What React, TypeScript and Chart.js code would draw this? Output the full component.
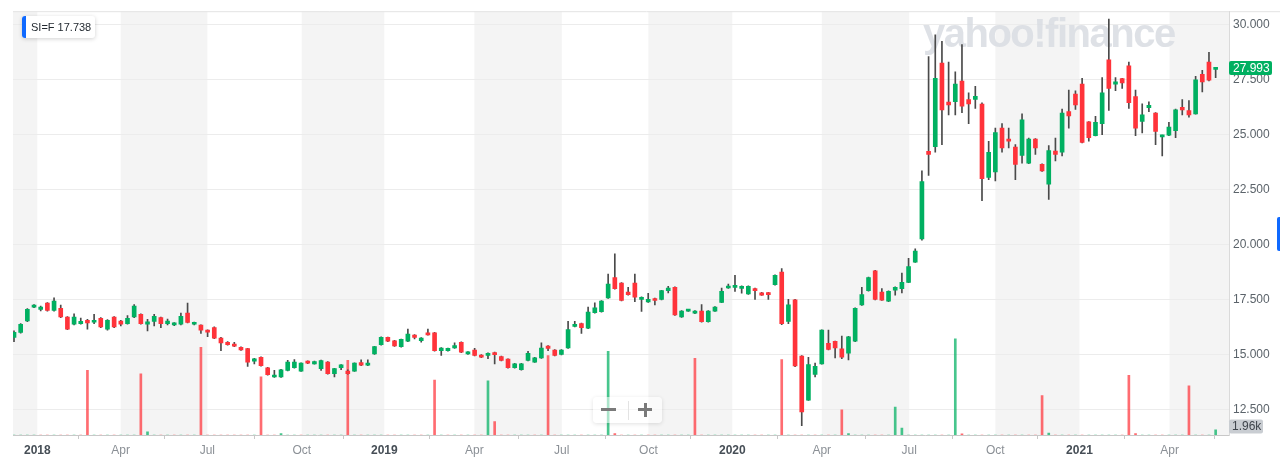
import React, { useEffect, useRef } from 'react';
import { Chart, registerables } from 'chart.js';

Chart.register(...registerables);

// Weekly OHLC for SI=F (silver futures), Dec 2017 – May 2021
const open = [
  15.77, 16.0, 16.52, 17.15, 17.05, 17.33, 17.0, 17.1, 16.7, 16.37,
  16.4, 16.55, 16.46, 16.64, 16.15, 16.7, 16.52, 16.4, 16.7, 16.82,
  16.37, 16.5, 16.67, 16.4, 16.34, 16.37, 16.88, 16.37, 16.33, 16.1,
  16.22, 15.74, 15.55, 15.47, 15.32, 15.26, 14.69, 14.87, 14.39, 13.97,
  13.97, 14.27, 14.39, 14.24, 14.69, 14.57, 14.35, 14.65, 14.12, 14.39,
  14.24, 14.24, 14.63, 14.51, 15.02, 15.44, 15.77, 15.62, 15.35, 15.6,
  15.88, 15.62, 15.98, 15.98, 15.17, 15.17, 15.29, 15.55, 15.02, 15.2,
  14.97, 14.95, 15.08, 14.9, 14.78, 14.39, 14.3, 14.72, 14.65, 14.84,
  15.38, 15.2, 15.0, 15.29, 16.27, 16.4, 16.19, 16.9, 16.94, 17.57,
  18.5, 18.25, 17.84, 18.25, 17.5, 17.39, 17.54, 17.5, 17.9, 18.05,
  16.7, 16.97, 16.87, 16.97, 16.49, 16.97, 17.37, 18.02, 18.05, 18.0,
  17.75, 18.0, 17.8, 17.8, 18.17, 18.75, 16.5, 17.48, 14.92, 12.92,
  14.09, 14.57, 15.5, 15.59, 15.25, 15.05, 15.6, 17.25, 17.9, 18.8,
  17.84, 17.42, 17.92, 17.99, 18.28, 19.2, 20.25, 24.24, 24.45, 28.26,
  26.48, 26.5, 27.44, 26.6, 26.6, 26.39, 23.05, 23.3, 25.3, 24.8,
  24.43, 24.06, 23.7, 24.8, 23.65, 22.75, 24.25, 24.2, 26.05, 26.85,
  27.3, 25.58, 24.96, 25.5, 28.41, 27.3, 27.55, 28.13, 26.73, 25.6,
  26.23, 25.98, 24.9, 24.98, 25.18, 26.25, 26.1, 25.95, 27.75, 28.3,
  27.97,
];
const high = [
  16.07, 16.4, 17.08, 17.27, 17.2, 17.36, 17.57, 17.24, 16.72, 16.85,
  16.65, 16.6, 16.82, 16.67, 16.58, 16.72, 16.55, 16.76, 17.27, 16.85,
  16.6, 16.82, 16.7, 16.61, 16.45, 16.88, 17.33, 16.47, 16.35, 16.12,
  16.25, 15.77, 15.58, 15.55, 15.34, 15.28, 14.82, 14.89, 14.41, 14.27,
  14.32, 14.73, 14.76, 14.62, 14.71, 14.69, 14.74, 14.67, 14.37, 14.54,
  14.3, 14.62, 14.75, 14.75, 15.37, 15.8, 15.79, 15.64, 15.7, 16.15,
  15.9, 15.76, 16.15, 16.0, 15.31, 15.29, 15.52, 15.57, 15.13, 15.27,
  14.99, 15.07, 15.1, 14.92, 14.8, 14.59, 14.59, 15.14, 14.86, 15.53,
  15.4, 15.22, 15.22, 16.5, 16.5, 16.42, 17.15, 17.35, 17.45, 18.65,
  19.58, 18.27, 18.05, 18.65, 17.62, 17.78, 17.56, 17.92, 18.1, 18.07,
  16.99, 17.04, 16.99, 17.27, 16.99, 17.17, 18.02, 18.2, 18.6, 18.12,
  18.12, 18.02, 17.82, 17.82, 18.62, 18.9, 17.5, 17.5, 14.94, 14.87,
  14.6, 16.12, 16.1, 15.61, 15.83, 15.82, 17.12, 18.05, 18.52, 18.82,
  18.0, 17.89, 18.07, 18.7, 19.37, 19.8, 23.35, 28.55, 29.55, 29.25,
  28.3, 27.86, 29.1, 26.9, 27.2, 26.45, 24.7, 25.3, 25.5, 25.3,
  24.55, 25.95, 24.85, 24.82, 23.67, 24.5, 24.85, 26.17, 27.03, 27.0,
  27.56, 25.6, 25.83, 27.6, 30.26, 27.6, 27.57, 28.3, 27.03, 26.4,
  26.5, 26.0, 24.98, 25.56, 26.16, 26.6, 26.55, 27.65, 27.93, 28.75,
  28.06,
];
const low = [
  15.58, 15.97, 16.49, 17.12, 16.98, 16.97, 16.97, 16.67, 16.12, 16.34,
  16.37, 16.15, 16.4, 16.22, 16.1, 16.22, 16.3, 16.37, 16.67, 16.37,
  16.07, 16.3, 16.22, 16.34, 16.31, 16.34, 16.43, 16.34, 15.95, 15.8,
  15.72, 15.17, 15.42, 15.35, 15.18, 14.45, 14.57, 14.46, 14.05, 13.95,
  13.95, 14.25, 14.37, 14.22, 14.58, 14.55, 14.27, 14.1, 13.97, 14.3,
  14.1, 14.22, 14.49, 14.49, 15.0, 15.42, 15.58, 15.36, 15.33, 15.58,
  15.7, 15.55, 15.87, 15.15, 14.95, 15.15, 15.27, 15.08, 15.0, 14.93,
  14.85, 14.8, 14.57, 14.7, 14.37, 14.37, 14.28, 14.7, 14.63, 14.82,
  15.17, 14.93, 14.98, 15.27, 16.25, 15.95, 16.17, 16.88, 16.92, 17.55,
  17.97, 17.43, 17.7, 17.4, 16.95, 17.37, 17.25, 17.48, 17.8, 16.77,
  16.68, 16.95, 16.85, 16.47, 16.47, 16.95, 17.35, 18.0, 17.87, 17.78,
  17.73, 17.5, 17.68, 17.5, 18.15, 16.35, 16.4, 14.44, 11.76, 12.9,
  13.97, 14.55, 15.2, 14.84, 14.8, 14.75, 15.58, 17.23, 17.88, 17.48,
  17.45, 17.4, 17.7, 17.8, 18.26, 19.18, 20.2, 23.15, 24.2, 24.55,
  25.9, 25.9, 26.0, 25.5, 26.2, 22.0, 22.95, 22.9, 24.2, 24.4,
  22.95, 23.7, 23.68, 24.1, 23.33, 22.05, 23.8, 24.03, 25.3, 26.15,
  24.63, 24.7, 24.94, 25.0, 26.1, 27.0, 27.1, 26.2, 24.96, 25.08,
  26.05, 24.55, 24.03, 24.96, 24.86, 25.9, 25.8, 25.93, 26.95, 27.45,
  27.6,
];
const close = [
  16.0, 16.37, 17.05, 17.24, 17.15, 17.0, 17.42, 16.7, 16.15, 16.7,
  16.5, 16.43, 16.55, 16.25, 16.55, 16.25, 16.37, 16.64, 17.2, 16.4,
  16.48, 16.73, 16.4, 16.52, 16.43, 16.73, 16.45, 16.45, 16.1, 16.01,
  15.74, 15.52, 15.44, 15.37, 15.2, 14.65, 14.8, 14.48, 14.08, 14.05,
  14.3, 14.65, 14.65, 14.6, 14.6, 14.67, 14.72, 14.12, 14.35, 14.52,
  14.12, 14.6, 14.51, 14.6, 15.35, 15.77, 15.6, 15.38, 15.68, 15.92,
  15.77, 15.74, 15.89, 15.17, 15.29, 15.27, 15.4, 15.1, 15.11, 14.95,
  14.87, 15.05, 14.99, 14.72, 14.39, 14.57, 14.57, 15.05, 14.84, 15.29,
  15.27, 14.95, 15.2, 16.13, 16.37, 16.22, 16.93, 17.12, 17.42, 18.2,
  17.99, 17.45, 17.72, 17.6, 17.6, 17.5, 17.45, 17.9, 18.02, 16.79,
  16.97, 17.02, 16.97, 16.49, 16.97, 17.15, 17.87, 18.1, 18.1, 18.1,
  18.1, 17.9, 17.7, 17.72, 18.6, 16.4, 17.25, 14.47, 12.38, 14.54,
  14.45, 16.1, 15.23, 15.29, 14.87, 15.8, 17.1, 17.72, 18.5, 17.5,
  17.47, 17.87, 18.05, 18.28, 19.0, 19.7, 22.86, 24.1, 27.56, 26.13,
  26.35, 27.3, 26.3, 26.4, 26.75, 23.0, 24.2, 25.1, 24.4, 24.7,
  23.65, 25.68, 24.8, 24.4, 23.35, 24.28, 24.1, 25.98, 25.85, 26.35,
  24.65, 24.86, 25.56, 26.9, 27.1, 27.4, 27.35, 26.46, 25.3, 25.9,
  26.34, 25.15, 24.96, 25.35, 26.13, 26.13, 25.9, 27.5, 27.4, 27.48,
  27.993,
];

// Volume (thousands): weeks with noticeable volume
const volumeWeeks = [11, 19, 20, 28, 37, 40, 50, 63, 71, 72, 80, 89, 90, 102, 115, 124, 125, 132, 133, 141, 142, 154, 155, 167, 168, 176, 180];
const volumeValues = [24.2, 22.9, 1.2, 32.8, 21.7, 0.5, 27.9, 20.5, 20.2, 5.0, 29.7, 31.3, 0.5, 28.7, 28.2, 9.4, 0.5, 10.4, 2.6, 35.9, 0.4, 14.7, 0.7, 22.3, 0.5, 18.4, 1.96];

// x-axis ticks (in week index units) and labels
const tickWeeks = [3.49, 15.98, 28.96, 43.1, 55.47, 68.96, 82.05, 95.03, 107.6, 121.0, 134.1, 147.0, 159.6, 173.1];
const tickLabels = ['2018', 'Apr', 'Jul', 'Oct', '2019', 'Apr', 'Jul', 'Oct', '2020', 'Apr', 'Jul', 'Oct', '2021', 'Apr'];
const priceTicks = [12.5, 15, 17.5, 20, 22.5, 25, 27.5, 30];

const symbol = 'SI=F';
const legendValue = '17.738';
const lastPrice = 27.993;
const lastVolumeLabel = '1.96k';
const watermark = 'yahoo!finance';

const FONT = '"Liberation Sans", Arial, sans-serif';
const UP = '#00b061';
const DOWN = '#ff333a';
const UP_VOL = 'rgba(0,176,97,0.72)';
const DOWN_VOL = 'rgba(255,51,58,0.72)';

export default function App() {
  const ref = useRef<HTMLCanvasElement>(null);

  useEffect(() => {
    document.body.style.margin = '0';
    const canvas = ref.current;
    if (!canvas) return;

    const volume = close.map(() => 0);
    volumeWeeks.forEach((w, k) => {
      volume[w] = volumeValues[k];
    });
    const isUp = (i: number) => close[i] >= open[i];
    const volUp = (i: number) => (i === 0 ? isUp(0) : close[i] >= close[i - 1]);

    const backgroundPlugin = {
      id: 'bands',
      beforeDraw(chart: any) {
        const { ctx, chartArea, scales } = chart;
        const xs = scales.x;
        ctx.save();
        ctx.fillStyle = '#ffffff';
        ctx.fillRect(0, 0, chart.width, chart.height);
        const b = [xs.min, ...tickWeeks, xs.max];
        ctx.fillStyle = '#f4f4f4';
        for (let k = 0; k + 1 < b.length; k += 2) {
          const x0 = xs.getPixelForValue(b[k]);
          const x1 = xs.getPixelForValue(b[k + 1]);
          ctx.fillRect(x0, chartArea.top, x1 - x0, chartArea.bottom - chartArea.top);
        }
        ctx.strokeStyle = '#e3e3e3';
        ctx.lineWidth = 1;
        ctx.beginPath();
        ctx.moveTo(chartArea.left, chartArea.top + 0.5);
        ctx.lineTo(chart.width, chartArea.top + 0.5);
        ctx.stroke();
        ctx.restore();
      },
      beforeDatasetsDraw(chart: any) {
        const { ctx, chartArea } = chart;
        ctx.save();
        ctx.font = `bold 40px ${FONT}`;
        (ctx as any).letterSpacing = '-1.5px';
        ctx.fillStyle = 'rgba(216,220,226,0.85)';
        ctx.textAlign = 'left';
        ctx.textBaseline = 'alphabetic';
        ctx.fillText(watermark, chartArea.right - 306, chartArea.top + 36);
        ctx.restore();
      },
      afterDraw(chart: any) {
        const { ctx, chartArea, scales } = chart;
        ctx.save();
        // last price label
        const yp = scales.y.getPixelForValue(lastPrice);
        ctx.fillStyle = UP;
        ctx.beginPath();
        (ctx as any).roundRect(chartArea.right, yp - 8, 43, 14, 2);
        ctx.fill();
        ctx.fillStyle = '#ffffff';
        ctx.font = `12px ${FONT}`;
        ctx.textAlign = 'left';
        ctx.textBaseline = 'middle';
        ctx.fillText(lastPrice.toFixed(3), chartArea.right + 4, yp - 0.5);
        // last volume label
        const lastVol = volume[volume.length - 1];
        const yv = Math.min(scales.yVol.getPixelForValue(lastVol), chartArea.bottom - 8.5);
        ctx.fillStyle = '#c9cdd2';
        ctx.beginPath();
        (ctx as any).roundRect(chartArea.right, yv - 7, 34, 14, 2);
        ctx.fill();
        ctx.fillStyle = '#3f454c';
        ctx.fillText(lastVolumeLabel, chartArea.right + 3, yv);
        ctx.restore();
      },
    };

    const chart = new Chart(canvas, {
      type: 'bar',
      data: {
        datasets: [
          {
            label: 'Volume',
            yAxisID: 'yVol',
            data: volume.map((v, i) => ({ x: i, y: v })) as any,
            backgroundColor: volume.map((_, i) => (volUp(i) ? UP_VOL : DOWN_VOL)),
            barThickness: 2,
            grouped: false,
            order: 3,
          },
          {
            label: 'Wick',
            yAxisID: 'y',
            data: low.map((l, i) => ({ x: i, y: [l, high[i]] })) as any,
            backgroundColor: '#4a4a4a',
            barThickness: 1,
            grouped: false,
            order: 2,
          },
          {
            label: 'Body',
            yAxisID: 'y',
            data: open.map((o, i) => ({ x: i, y: [o, close[i]] })) as any,
            backgroundColor: open.map((_, i) => (isUp(i) ? UP : DOWN)),
            barThickness: 4,
            minBarLength: 2,
            grouped: false,
            order: 1,
          },
        ],
      },
      options: {
        animation: false,
        responsive: false,
        devicePixelRatio: 1,
        events: [],
        layout: { padding: { left: 13, top: 7, right: 0, bottom: 0 } },
        plugins: {
          legend: { display: false },
          tooltip: { enabled: false },
        },
        scales: {
          x: {
            type: 'linear',
            min: -0.15,
            max: 182,
            offset: false,
            grid: { display: true, drawOnChartArea: false, drawTicks: true, tickLength: 4, color: '#c8c8c8' },
            border: { display: true, color: '#c8c8c8' },
            afterBuildTicks: (s: any) => {
              s.ticks = tickWeeks.map((v) => ({ value: v }));
            },
            afterFit: (s: any) => {
              s.height = 29;
            },
            ticks: {
              autoSkip: false,
              maxRotation: 0,
              padding: 4,
              callback: (_v: any, idx: number) => tickLabels[idx],
              color: (c: any) => (/^\d/.test(tickLabels[c.index] || '') ? '#464e56' : '#8b9096'),
              font: (c: any) => ({
                family: FONT,
                size: 12,
                weight: /^\d/.test(tickLabels[c.index] || '') ? 'bold' : 'normal',
              }),
            },
          } as any,
          y: {
            type: 'linear',
            position: 'right',
            min: 11.33,
            max: 30.62,
            afterBuildTicks: (s: any) => {
              s.ticks = priceTicks.map((v) => ({ value: v }));
            },
            afterFit: (s: any) => {
              s.width = 51;
            },
            grid: { color: '#ececec', drawTicks: false },
            border: { display: true, color: '#dadada' },
            ticks: {
              padding: 4,
              color: '#5b636a',
              font: { family: FONT, size: 12 },
              callback: (v: any) => Number(v).toFixed(3),
            },
          } as any,
          yVol: {
            type: 'linear',
            display: false,
            min: 0,
            max: 158.4,
          },
        },
      },
      plugins: [backgroundPlugin],
    });

    return () => chart.destroy();
  }, []);

  return (
    <div style={{ position: 'relative', width: 1280, height: 464, overflow: 'hidden', background: '#fff' }}>
      <canvas ref={ref} width={1280} height={464} style={{ display: 'block' }} />
      {/* legend */}
      <div
        style={{
          position: 'absolute',
          left: 22,
          top: 16,
          height: 22,
          background: '#fff',
          borderRadius: 3,
          boxShadow: '0 1px 4px rgba(0,0,0,0.18)',
          display: 'flex',
          alignItems: 'center',
          fontFamily: FONT,
          fontSize: 11,
          color: '#232a31',
          overflow: 'hidden',
          paddingRight: 4,
        }}
      >
        <div style={{ width: 4, height: 22, background: '#0f69ff', marginRight: 5 }} />
        <span style={{ whiteSpace: 'pre' }}>{`${symbol} ${legendValue}`}</span>
      </div>
      {/* zoom control */}
      <div
        style={{
          position: 'absolute',
          left: 593,
          top: 397,
          width: 69,
          height: 26,
          background: 'rgba(255,255,255,0.55)',
          borderRadius: 4,
          boxShadow: '0 1px 4px rgba(0,0,0,0.12)',
        }}
      >
        <div style={{ position: 'absolute', left: 8, top: 11, width: 15, height: 3, background: '#7a7a7a' }} />
        <div style={{ position: 'absolute', left: 35, top: 4, width: 1, height: 19, background: '#e3e3e3' }} />
        <div style={{ position: 'absolute', left: 45, top: 11, width: 14, height: 3, background: '#7a7a7a' }} />
        <div style={{ position: 'absolute', left: 50.5, top: 5.5, width: 3, height: 14, background: '#7a7a7a' }} />
      </div>
      {/* right edge marker */}
      <div
        style={{
          position: 'absolute',
          left: 1277,
          top: 217,
          width: 4,
          height: 34,
          background: '#0f69ff',
          borderRadius: '2px 0 0 2px',
        }}
      />
    </div>
  );
}
